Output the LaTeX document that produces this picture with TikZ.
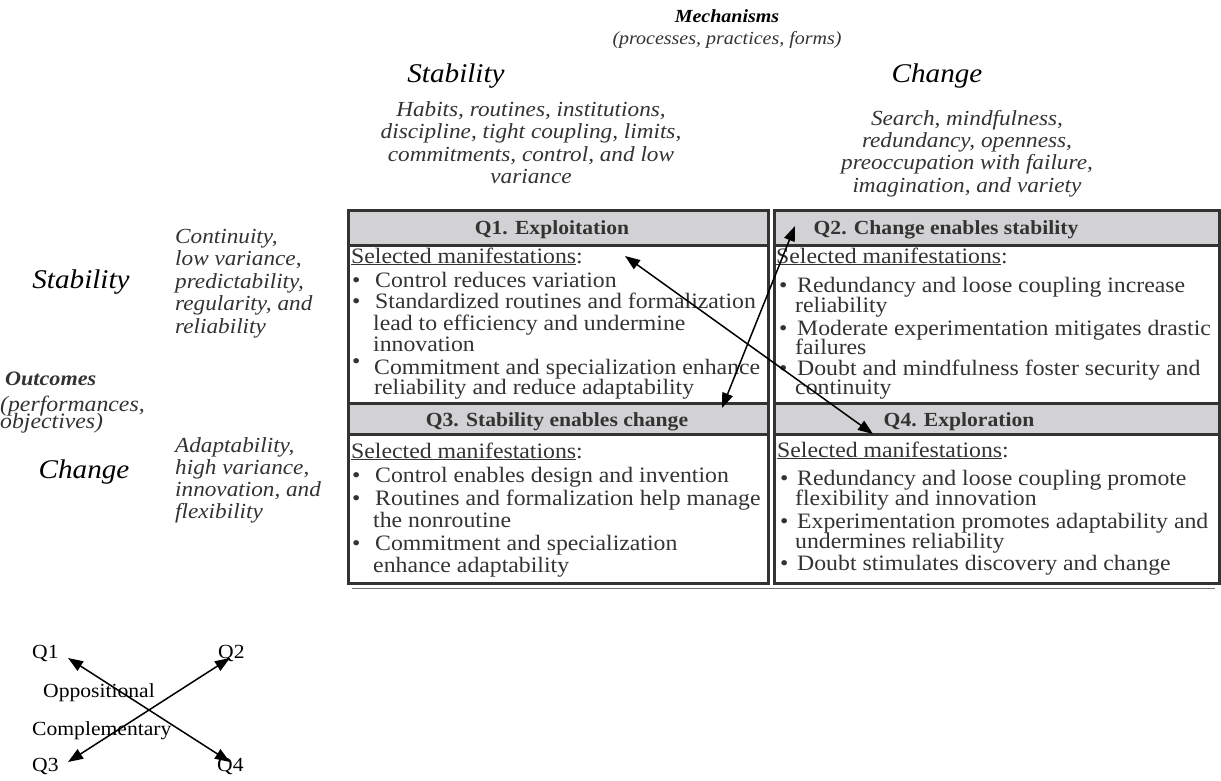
\documentclass[tikz,border=0pt]{standalone}
\usepackage{fontspec}
\setmainfont{Liberation Serif}[FakeStretch=1.08]
\usetikzlibrary{arrows.meta}
\definecolor{txt}{HTML}{333333}
\definecolor{frame}{HTML}{333333}
\definecolor{hdrfill}{HTML}{D2D2D4}
\tikzset{
  body/.style={anchor=base west, inner sep=0pt, text=txt, font=\fontsize{22}{22}\selectfont},
  bul/.style={anchor=base west, inner sep=0pt, text=txt, font=\fontsize{22}{22}\selectfont},
  hdr/.style={anchor=base, inner sep=0pt, text=txt, font=\fontsize{20}{20}\selectfont\bfseries},
  desc/.style={anchor=base, inner sep=0pt, text=txt, font=\fontsize{21.5}{22}\selectfont\itshape},
  ldesc/.style={anchor=base west, inner sep=0pt, text=txt, font=\fontsize{21.5}{22}\selectfont\itshape},
  bigt/.style={anchor=base, inner sep=0pt, text=black, font=\fontsize{27}{27}\selectfont\itshape},
  leg/.style={anchor=base west, inner sep=0pt, text=black, font=\fontsize{20}{20}\selectfont},
  cellbox/.style={draw=frame, line width=3pt},
  hdrbox/.style={draw=frame, line width=3pt, fill=hdrfill},
  arr/.style={{Triangle[length=15pt,width=11pt]}-{Triangle[length=15pt,width=11pt]}, line width=1.5pt, black, shorten <=0pt, shorten >=0pt},
}
\begin{document}
\begin{tikzpicture}[x=1pt,y=-1pt]
\useasboundingbox (0,0) rectangle (1221,781);
\fill[white] (0,0) rectangle (1221,781);

% --- top headings
\node[anchor=base, inner sep=0pt, font=\fontsize{18.5}{18.5}\selectfont\bfseries\itshape] (mech) at (727,23) {Mechanisms};
\node[anchor=base, inner sep=0pt, text=txt, font=\fontsize{18.5}{18.5}\selectfont\itshape] (mechsub) at (727,45) {(processes, practices, forms)};
\node[bigt] (tstab) at (456,83) {Stability};
\node[bigt] (tchg) at (937,83) {Change};
\node[desc] (sd1) at (531,117) {Habits, routines, institutions,};
\node[desc] (sd2) at (531,139) {discipline, tight coupling, limits,};
\node[desc] (sd3) at (531,161) {commitments, control, and low};
\node[desc] (sd4) at (531,183) {variance};
\node[desc] (cd1) at (967,126) {Search, mindfulness,};
\node[desc] (cd2) at (967,148) {redundancy, openness,};
\node[desc] (cd3) at (967,170) {preoccupation with failure,};
\node[desc] (cd4) at (967,192) {imagination, and variety};

% --- left headings
\node[bigt] (lstab) at (81,288) {Stability};
\node[ldesc] (ls1) at (175,243) {Continuity,};
\node[ldesc] (ls2) at (175,265) {low variance,};
\node[ldesc] (ls3) at (175,288) {predictability,};
\node[ldesc] (ls4) at (175,310) {regularity, and};
\node[ldesc] (ls5) at (175,333) {reliability};
\node[anchor=base west, inner sep=0pt, text=txt, font=\fontsize{20.5}{20.5}\selectfont\bfseries\itshape] (outc) at (5,385) {Outcomes};
\node[anchor=base west, inner sep=0pt, text=txt, font=\fontsize{22}{22}\selectfont\itshape] (outc2) at (0,411) {(performances,};
\node[anchor=base west, inner sep=0pt, text=txt, font=\fontsize{22}{22}\selectfont\itshape] (outc3) at (0,428) {objectives)};
\node[bigt] (lchg) at (84,478) {Change};
\node[ldesc] (lc1) at (175,452) {Adaptability,};
\node[ldesc] (lc2) at (175,474) {high variance,};
\node[ldesc] (lc3) at (175,496) {innovation, and};
\node[ldesc] (lc4) at (175,518) {flexibility};

% --- table shadow
\draw[frame!70, line width=1pt] (352,588) -- (1215,588);

% --- cells
\draw[cellbox] (348,245) rectangle (768,403);
\draw[hdrbox] (348,210) rectangle (768,245);
\draw[cellbox] (774,245) rectangle (1219,403);
\draw[hdrbox] (774,210) rectangle (1219,245);
\draw[cellbox] (348,434) rectangle (768,583);
\draw[hdrbox] (348,403) rectangle (768,434);
\draw[cellbox] (774,434) rectangle (1219,583);
\draw[hdrbox] (774,403) rectangle (1219,434);

% --- headers
\node[hdr] (h1) at (552,234) {Q1. Exploitation};
\node[hdr] (h2) at (946,234) {Q2. Change enables stability};
\node[hdr] (h3) at (557,426) {Q3. Stability enables change};
\node[hdr] (h4) at (959,426) {Q4. Exploration};

% --- Q1 body
\node[body] (q1s) at (351,263) {\underline{Selected manifestations}:};
\node[bul] (q1b1) at (352,287) {\textbullet};
\node[body] (q1l1) at (375,287) {Control reduces variation};
\node[bul] (q1b2) at (352,308) {\textbullet};
\node[body] (q1l2) at (375,308) {Standardized routines and formalization};
\node[body] (q1l3) at (373,330) {lead to efficiency and undermine};
\node[body] (q1l4) at (373,351) {innovation};
\node[bul] (q1b3) at (352,368) {\textbullet};
\node[body] (q1l5) at (374,374) {Commitment and specialization enhance};
\node[body] (q1l6) at (374,394) {reliability and reduce adaptability};

% --- Q2 body
\node[body] (q2s) at (776,263) {\underline{Selected manifestations}:};
\node[bul] (q2b1) at (779,292) {\textbullet};
\node[body] (q2l1) at (797,292) {Redundancy and loose coupling increase};
\node[body] (q2l2) at (795,312) {reliability};
\node[bul] (q2b2) at (779,335) {\textbullet};
\node[body] (q2l3) at (797,335) {Moderate experimentation mitigates drastic};
\node[body] (q2l4) at (795,354) {failures};
\node[bul] (q2b3) at (779,375) {\textbullet};
\node[body] (q2l5) at (797,375) {Doubt and mindfulness foster security and};
\node[body] (q2l6) at (795,394) {continuity};

% --- Q3 body
\node[body] (q3s) at (351,458) {\underline{Selected manifestations}:};
\node[bul] (q3b1) at (352,482) {\textbullet};
\node[body] (q3l1) at (375,482) {Control enables design and invention};
\node[bul] (q3b2) at (352,505) {\textbullet};
\node[body] (q3l2) at (375,505) {Routines and formalization help manage};
\node[body] (q3l3) at (373,527) {the nonroutine};
\node[bul] (q3b3) at (352,550) {\textbullet};
\node[body] (q3l4) at (375,550) {Commitment and specialization};
\node[body] (q3l5) at (373,572) {enhance adaptability};

% --- Q4 body
\node[body] (q4s) at (777,457) {\underline{Selected manifestations}:};
\node[bul] (q4b1) at (780,485) {\textbullet};
\node[body] (q4l1) at (797,485) {Redundancy and loose coupling promote};
\node[body] (q4l2) at (795,505) {flexibility and innovation};
\node[bul] (q4b2) at (780,528) {\textbullet};
\node[body] (q4l3) at (797,528) {Experimentation promotes adaptability and};
\node[body] (q4l4) at (795,548) {undermines reliability};
\node[bul] (q4b3) at (780,570) {\textbullet};
\node[body] (q4l5) at (797,570) {Doubt stimulates discovery and change};

% --- main arrows
\coordinate (pq1) at (625,256);
\coordinate (pq4) at (873,434);
\coordinate (pq2) at (795,226);
\coordinate (pq3) at (722,408);
\draw[arr] (pq1) -- (pq4);
\draw[arr] (pq3) -- (pq2);

% --- legend
\node[leg] (g1) at (32,658) {Q1};
\node[leg] (g2) at (218,658) {Q2};
\node[leg] (g3) at (32,771) {Q3};
\node[leg] (g4) at (217,771) {Q4};
\node[leg] (gop) at (43,697) {Oppositional};
\node[leg] (gco) at (32,735) {Complementary};
\coordinate (lq1) at (68,658);
\coordinate (lq4) at (230,762);
\coordinate (lq3) at (68,762);
\coordinate (lq2) at (230,658);
\draw[arr] (lq1) -- (lq4);
\draw[arr] (lq3) -- (lq2);
\end{tikzpicture}
\end{document}
